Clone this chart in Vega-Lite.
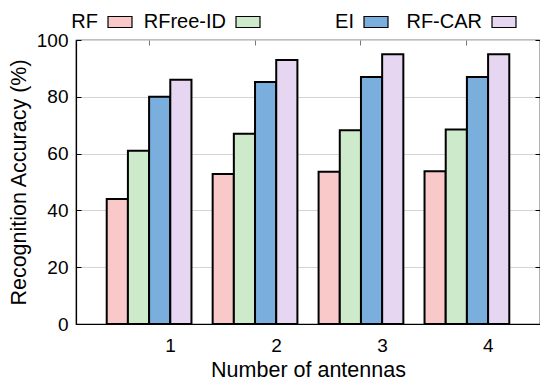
{
  "$schema": "https://vega.github.io/schema/vega-lite/v6.json",
  "width": 464,
  "height": 284,
  "autosize": {"type": "none"},
  "padding": {"left": 76, "top": 40, "right": 0, "bottom": 56},
  "config": {
    "font": "Liberation Sans",
    "view": {"stroke": "black", "strokeWidth": 1.2}
  },
  "data": {
    "values": [
      {"antennas": "1", "method": "RF", "accuracy": 44},
      {"antennas": "1", "method": "RFree-ID", "accuracy": 61},
      {"antennas": "1", "method": "EI", "accuracy": 80},
      {"antennas": "1", "method": "RF-CAR", "accuracy": 86},
      {"antennas": "2", "method": "RF", "accuracy": 52.8},
      {"antennas": "2", "method": "RFree-ID", "accuracy": 67},
      {"antennas": "2", "method": "EI", "accuracy": 85.2},
      {"antennas": "2", "method": "RF-CAR", "accuracy": 93},
      {"antennas": "3", "method": "RF", "accuracy": 53.6},
      {"antennas": "3", "method": "RFree-ID", "accuracy": 68.2},
      {"antennas": "3", "method": "EI", "accuracy": 87},
      {"antennas": "3", "method": "RF-CAR", "accuracy": 95},
      {"antennas": "4", "method": "RF", "accuracy": 53.8},
      {"antennas": "4", "method": "RFree-ID", "accuracy": 68.5},
      {"antennas": "4", "method": "EI", "accuracy": 87},
      {"antennas": "4", "method": "RF-CAR", "accuracy": 95}
    ]
  },
  "layer": [
    {
      "mark": {"type": "bar", "stroke": "black", "strokeWidth": 2},
      "encoding": {
        "x": {
          "field": "antennas", "type": "ordinal",
          "scale": {"paddingInner": 0.2, "paddingOuter": 0.29},
          "axis": {
            "orient": "bottom", "labelAngle": 0, "ticks": false, "grid": false,
            "domainColor": "black", "domainWidth": 1.2,
            "labelOffset": 21.5, "labelFontSize": 19, "labelColor": "black", "labelPadding": 12,
            "title": "Number of antennas", "titleFontSize": 21.5, "titleFontWeight": "normal",
            "titleColor": "black", "titlePadding": 4
          }
        },
        "xOffset": {
          "field": "method", "type": "nominal",
          "sort": ["RF", "RFree-ID", "EI", "RF-CAR"],
          "scale": {"paddingInner": 0, "paddingOuter": 0}
        },
        "y": {
          "field": "accuracy", "type": "quantitative",
          "scale": {"domain": [0, 100], "nice": false},
          "axis": {
            "orient": "left", "values": [0, 20, 40, 60, 80, 100],
            "grid": true, "gridColor": "#d4d4d4", "gridWidth": 1,
            "domainColor": "black", "domainWidth": 1.2,
            "ticks": true, "tickSize": -5, "tickColor": "black",
            "labelFontSize": 19, "labelColor": "black", "labelPadding": 13,
            "title": "Recognition Accuracy (%)", "titleFontSize": 21.5, "titleFontWeight": "normal",
            "titleColor": "black", "titlePadding": 6
          }
        },
        "color": {
          "field": "method", "type": "nominal",
          "sort": ["RF", "RFree-ID", "EI", "RF-CAR"],
          "scale": {
            "domain": ["RF", "RFree-ID", "EI", "RF-CAR"],
            "range": ["#f9c8c8", "#cdeaca", "#7aaedd", "#e6d6f2"]
          },
          "legend": {
            "orient": "none", "legendX": 31, "legendY": -31,
            "direction": "horizontal", "columns": 4, "gridAlign": "all",
            "title": null, "padding": 0,
            "symbolType": "M-1,-0.46H1V0.46H-1Z", "symbolSize": 576,
            "symbolStrokeColor": "black", "symbolStrokeWidth": 1.2, "symbolOpacity": 1,
            "labelAlign": "right", "labelOffset": -35, "symbolOffset": 0,
            "columnPadding": 8, "labelFontSize": 20, "labelColor": "black"
          }
        }
      }
    },
    {
      "mark": {"type": "bar", "opacity": 0},
      "encoding": {
        "x": {
          "field": "antennas", "type": "ordinal",
          "scale": {"paddingInner": 0.2, "paddingOuter": 0.29},
          "axis": {
            "orient": "top", "labels": false, "title": null, "domain": false, "grid": false,
            "ticks": true, "tickSize": -5, "tickColor": "#777777"
          }
        },
        "xOffset": {
          "field": "method", "type": "nominal",
          "sort": ["RF", "RFree-ID", "EI", "RF-CAR"]
        },
        "y": {
          "field": "accuracy", "type": "quantitative",
          "axis": {
            "orient": "right", "values": [0, 20, 40, 60, 80, 100],
            "labels": false, "title": null, "domain": false, "grid": false,
            "ticks": true, "tickSize": -5, "tickColor": "black"
          }
        }
      }
    }
  ],
  "resolve": {"axis": {"x": "independent", "y": "independent"}}
}
